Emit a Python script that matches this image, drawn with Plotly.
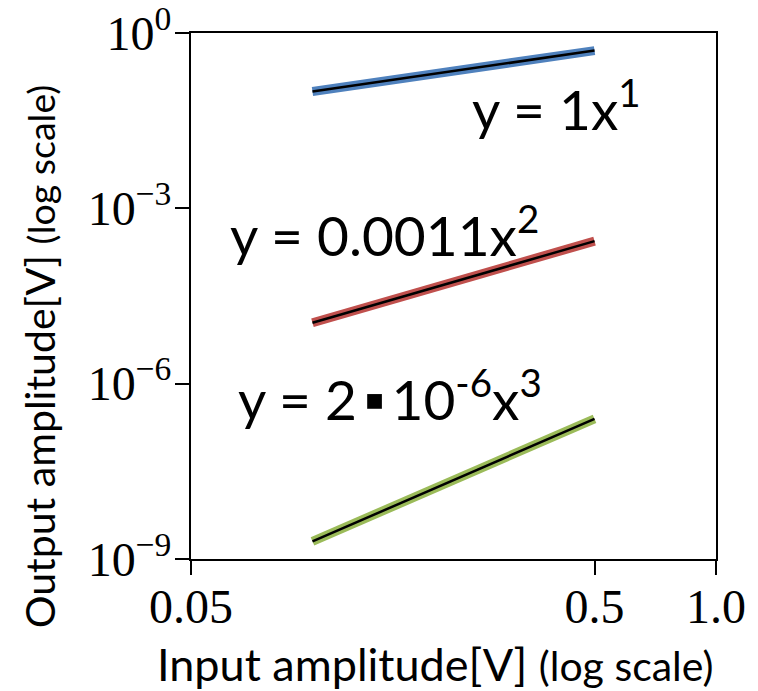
import plotly.graph_objects as go

# Data
x_in = [0.1, 0.5]                 # input amplitude [V]
y_lin = [0.1, 0.5]                # y = 1x^1
y_quad = [1.1e-5, 2.75e-4]        # y = 0.0011x^2
y_cub = [2.0e-9, 2.5e-7]          # y = 2e-6 x^3

series_colors = ["#4F81BD", "#C0504D", "#9BBB59"]
series = [y_lin, y_quad, y_cub]

x_tickvals = [0.05, 0.5, 1.0]
x_ticktext = ["0.05", "0.5", "1.0"]
y_tickvals = [1, 1e-3, 1e-6, 1e-9]
y_ticktext = ["10<sup>0</sup>", "10<sup>−3</sup>", "10<sup>−6</sup>", "10<sup>−9</sup>"]

gap = "<span style='font-size:24px'> </span>"
labels = ["y = 1x<sup>1</sup>", "y = 0.0011x<sup>2</sup>",
          "y = 2" + gap + "▪" + gap + "10<sup>-6</sup>x<sup>3</sup>"]
label_pos = [(0.531, 0.862), (0.070, 0.623), (0.086, 0.310)]

sans = "Lato, 'Open Sans', sans-serif"
serif = "'Liberation Serif', 'DejaVu Serif', serif"

fig = go.Figure()
for ys, c in zip(series, series_colors):
    fig.add_trace(go.Scatter(x=x_in, y=ys, mode="lines",
                             line=dict(color=c, width=9), showlegend=False))
    fig.add_trace(go.Scatter(x=x_in, y=ys, mode="lines",
                             line=dict(color="black", width=2.5), showlegend=False))

for txt, (px, py) in zip(labels, label_pos):
    fig.add_annotation(text=txt, xref="paper", yref="paper", x=px, y=py,
                       xanchor="left", yanchor="middle", showarrow=False,
                       font=dict(family=sans, size=55, color="black"))

fig.add_annotation(text="Input amplitude[V] <span style='font-size:41px'>(log scale)</span>",
                   xref="paper", yref="paper", x=0.465, y=-0.200,
                   xanchor="center", yanchor="middle", showarrow=False,
                   font=dict(family=sans, size=45, color="black"))
fig.add_annotation(text="Output amplitude[V] <span style='font-size:37.5px'>(log scale)</span>",
                   xref="paper", yref="paper", x=-0.288, y=0.385, textangle=-90,
                   xanchor="center", yanchor="middle", showarrow=False,
                   font=dict(family=sans, size=41, color="black"))

axis_common = dict(showgrid=False, zeroline=False, showline=True, linecolor="black",
                   linewidth=2, mirror=True, ticks="outside", ticklen=14,
                   tickwidth=2, tickcolor="black", automargin=False,
                   ticklabeloverflow="allow",
                   tickfont=dict(family=serif, size=48, color="black"))

fig.update_xaxes(type="log", range=[-1.30103, 0], tickvals=x_tickvals,
                 ticktext=x_ticktext, ticklabelstandoff=-10, **axis_common)
fig.update_yaxes(type="log", range=[-9, 0], tickvals=y_tickvals,
                 ticktext=y_ticktext, ticklabelstandoff=-6, **axis_common)

fig.update_layout(width=758, height=691, plot_bgcolor="white", paper_bgcolor="white",
                  margin=dict(l=191, r=42, t=33, b=132), showlegend=False)

fig.write_html("out.html")
